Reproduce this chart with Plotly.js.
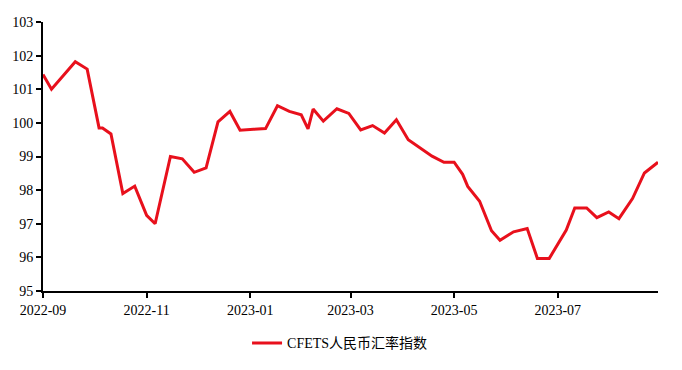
<!DOCTYPE html>
<html>
<head>
<meta charset="utf-8">
<script src="https://cdn.plot.ly/plotly-3.0.1.min.js"></script>
<style>
html,body{margin:0;padding:0;background:#fff;}
#chart{width:682px;height:370px;}
</style>
</head>
<body>
<div id="chart"></div>
<script>
const seriesName = 'CFETS人民币汇率指数';
const dates = [
  '2022-09-01','2022-09-06','2022-09-20','2022-09-27','2022-10-04','2022-10-06','2022-10-11',
  '2022-10-18','2022-10-25','2022-11-01','2022-11-06','2022-11-15','2022-11-22','2022-11-29',
  '2022-12-06','2022-12-13','2022-12-20','2022-12-26','2023-01-03','2023-01-10','2023-01-17',
  '2023-01-24','2023-01-31','2023-02-04','2023-02-07','2023-02-13','2023-02-21','2023-02-28',
  '2023-03-07','2023-03-14','2023-03-21','2023-03-28','2023-04-04','2023-04-11','2023-04-18',
  '2023-04-25','2023-05-01','2023-05-06','2023-05-09','2023-05-16','2023-05-23','2023-05-28',
  '2023-06-05','2023-06-13','2023-06-19','2023-06-26','2023-07-04','2023-07-06','2023-07-11',
  '2023-07-18','2023-07-24','2023-07-31','2023-08-06','2023-08-14','2023-08-21','2023-08-29'
];
const values = [
  101.44,101.00,101.82,101.60,99.85,99.85,99.67,
  97.90,98.12,97.25,97.00,99.00,98.93,98.53,
  98.66,100.03,100.34,99.78,99.81,99.83,100.51,
  100.34,100.24,99.82,100.41,100.05,100.42,100.28,
  99.79,99.92,99.70,100.09,99.50,99.26,99.01,
  98.83,98.83,98.47,98.11,97.67,96.79,96.51,
  96.76,96.86,95.97,95.97,96.66,96.81,97.47,
  97.47,97.18,97.35,97.15,97.75,98.51,98.83
];
const xRange = ['2022-09-01','2023-08-29'];
const yRange = [95, 103];

const serif = 'Liberation Serif';
const legendFont = 'Liberation Serif, Noto Sans CJK SC';

Plotly.newPlot('chart', [{
  x: dates, y: values, type: 'scatter', mode: 'lines', name: seriesName,
  line: {color: '#e8101c', width: 3}
}], {
  width: 682, height: 370,
  font: {family: serif, size: 14, color: '#000'},
  margin: {l: 43, r: 24, t: 22, b: 79, autoexpand: false},
  paper_bgcolor: '#fff', plot_bgcolor: '#fff',
  showlegend: true,
  legend: {orientation: 'h', x: 0.483, xanchor: 'center', y: -0.135, yanchor: 'top',
           font: {family: legendFont, size: 14, color: '#000'}},
  xaxis: {
    type: 'date', range: xRange, tick0: '2022-09-01', dtick: 'M2', tickformat: '%Y-%m',
    showgrid: false, zeroline: false, showline: true, linecolor: '#000', linewidth: 2,
    ticks: 'outside', ticklen: 5, tickwidth: 2, tickcolor: '#000',
    tickfont: {family: serif, size: 14, color: '#000'}
  },
  yaxis: {
    range: yRange, dtick: 1,
    showgrid: false, zeroline: false, showline: true, linecolor: '#000', linewidth: 2,
    ticks: 'outside', ticklen: 5, tickwidth: 2, tickcolor: '#000',
    tickfont: {family: serif, size: 14, color: '#000'}
  }
}, {displayModeBar: false, staticPlot: true});
</script>
</body>
</html>
